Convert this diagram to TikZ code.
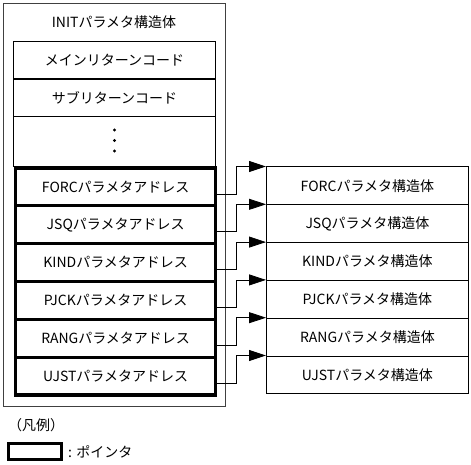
\documentclass[tikz,border=0pt]{standalone}
\usepackage{fontspec}
\setmainfont{Noto Sans CJK JP}
\usetikzlibrary{arrows.meta}
\begin{document}
\begin{tikzpicture}[x=1pt,y=-1pt,
  thin box/.style={draw=black,line width=0.8pt,minimum width=202pt,minimum height=37.8pt,inner sep=0pt,font=\fontsize{14}{16}\selectfont},
  ptr box/.style={draw=black,line width=3.2pt,minimum width=200pt,minimum height=37.8pt,inner sep=0pt,font=\fontsize{14}{16}\selectfont},
  ptr/.style={draw=black,line width=0.8pt,-{Triangle[length=17pt,width=11pt]}},
  lbl/.style={inner sep=0pt,font=\fontsize{14}{16}\selectfont}]
\useasboundingbox (0,0) rectangle (471,465);
% outer structure
\node[draw=black!75,line width=0.8pt,minimum width=222pt,minimum height=403pt,inner sep=0pt,anchor=north west] (init) at (3,3) {};
\node[lbl] (title) at (114,22) {INITパラメタ構造体};
\node[thin box,anchor=north west] (main) at (13,41) {メインリターンコード};
\node[thin box,anchor=north west,minimum height=38pt] (sub) at (13,78.5) {サブリターンコード};
\node[thin box,anchor=north west,minimum height=50pt] (dots) at (13,116.5) {};
\fill (114.5,130) circle (1.6pt) (114.5,140.5) circle (1.6pt) (114.5,151) circle (1.6pt);
% pointer rows
\foreach \n/\t [count=\i from 0] in {p1/FORC,p2/JSQ,p3/KIND,p4/PJCK,p5/RANG,p6/UJST}{
  \node[ptr box,anchor=north west] (\n) at (14,{166.5+37.8*\i}) {\t パラメタアドレス};
}
% target structures
\foreach \n/\t [count=\i from 0] in {s1/FORC,s2/JSQ,s3/KIND,s4/PJCK,s5/RANG,s6/UJST}{
  \node[thin box,anchor=north west] (\n) at (266,{166.5+37.8*\i}) {\t パラメタ構造体};
}
% connectors
\foreach \i in {1,...,6}{
  \draw[ptr] ([yshift=-7pt]p\i.east) -- ++(19pt,0) |- (s\i.north west);
}
% legend
\node[lbl,anchor=west] (legend) at (8,425) {（凡例）};
\node[draw=black,line width=3.2pt,minimum width=53pt,minimum height=16pt,inner sep=0pt] (lbox) at (35,451.5) {};
\node[lbl,anchor=west] (ltext) at (68,451.5) {: ポインタ};
\end{tikzpicture}
\end{document}
